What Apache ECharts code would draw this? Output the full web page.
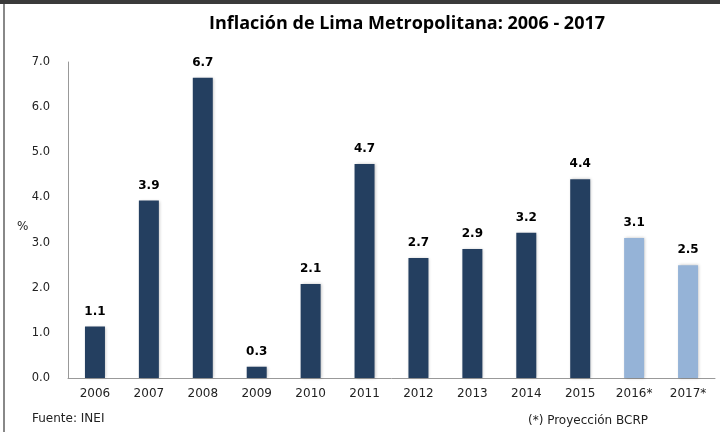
<!DOCTYPE html>
<html><head><meta charset="utf-8">
<script src="https://cdn.jsdelivr.net/npm/echarts@6/dist/echarts.min.js"></script>
<style>html,body{margin:0;padding:0;background:#fff}#c{width:720px;height:432px}</style>
</head><body><div id="c"></div>
<script>
const categories = ['2006','2007','2008','2009','2010','2011','2012','2013','2014','2015','2016*','2017*'];
const values = [1.14, 3.93, 6.65, 0.25, 2.08, 4.74, 2.66, 2.86, 3.22, 4.40, 3.1, 2.5];
const projected = [false,false,false,false,false,false,false,false,false,false,true,true];
const yTicks = [0,1,2,3,4,5,6,7];

const chart = echarts.init(document.getElementById('c'));
chart.setOption({
  animation: false,
  title: {
    text: 'Inflación de Lima Metropolitana: 2006 - 2017',
    left: 402, top: 10, textAlign: 'center',
    textStyle: {fontFamily: 'Open Sans', fontWeight: 'bold', fontSize: 18, color: '#000'}
  },
  grid: {left: 68, right: 5, top: 62, bottom: 54},
  xAxis: {
    type: 'category', data: categories,
    axisLine: {lineStyle: {color: '#999', width: 1}},
    axisTick: {show: false},
    axisLabel: {fontFamily: 'DejaVu Sans', fontSize: 12, color: '#222', margin: 10}
  },
  yAxis: {
    type: 'value', min: 0, max: 7, interval: 1,
    axisLine: {show: true, lineStyle: {color: '#999', width: 1}},
    axisTick: {show: false},
    splitLine: {show: false},
    axisLabel: {fontFamily: 'DejaVu Sans', fontSize: 11.5, color: '#222', margin: 18,
      formatter: v => v.toFixed(1)}
  },
  series: [{
    type: 'bar', barWidth: 20,
    data: values.map((v, i) => ({
      value: v,
      itemStyle: {color: projected[i] ? '#95B3D7' : '#243F60',
        shadowColor: 'rgba(0,0,0,0.25)', shadowBlur: 3, shadowOffsetX: 1}
    })),
    label: {show: true, position: 'top', distance: 9,
      fontFamily: 'DejaVu Sans', fontWeight: 'bold', fontSize: 12, color: '#000',
      formatter: p => p.value.toFixed(1)}
  }],
  graphic: [
    {type: 'rect', shape: {x: 0, y: 0, width: 720, height: 4}, style: {fill: '#3a3a3a'}},
    {type: 'rect', shape: {x: 3, y: 4, width: 2, height: 428}, style: {fill: '#888'}},
    {type: 'text', left: 17, top: 221, style: {text: '%', font: '12px "DejaVu Sans"', fill: '#222'}},
    {type: 'text', left: 32, top: 413, style: {text: 'Fuente: INEI', font: '12px "DejaVu Sans"', fill: '#222'}},
    {type: 'text', left: 528, top: 415, style: {text: '(*) Proyección BCRP', font: '12px "DejaVu Sans"', fill: '#222'}}
  ]
});
</script></body></html>
